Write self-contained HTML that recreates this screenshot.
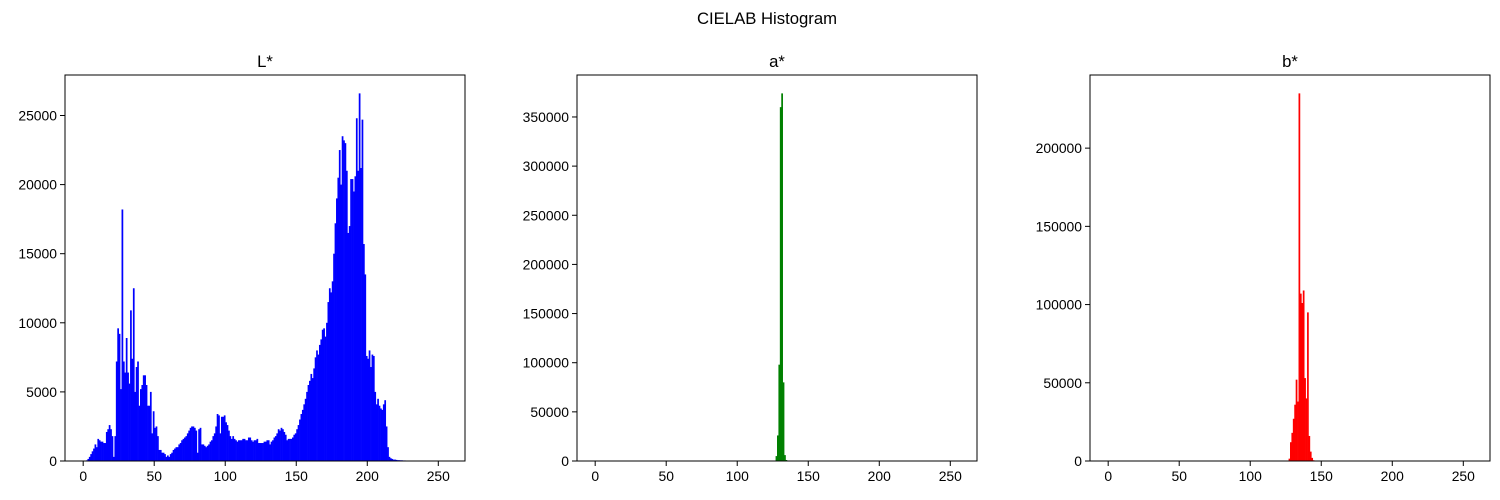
<!DOCTYPE html>
<html><head><meta charset="utf-8"><style>
body{margin:0;background:#fff;}
svg text{font-family:"Liberation Sans","DejaVu Sans",sans-serif;fill:#000;}
</style></head><body>
<svg id="fig" width="1500" height="495" xmlns="http://www.w3.org/2000/svg">
<text x="767" y="24" text-anchor="middle" font-size="16.7">CIELAB Histogram</text>
</svg>
<script>
const lValues=[0,0,50,150,300,500,700,900,1200,1000,1600,1500,1400,1400,1300,1300,2100,2300,2600,2300,1800,300,1800,7200,9600,9200,5200,18200,7200,6400,8900,6400,5600,10900,7400,12500,5000,6800,7200,4000,5200,5500,6200,6200,5500,4000,4000,5000,2000,3600,2400,2500,1800,800,800,600,600,500,300,400,300,500,600,800,900,1000,1000,1200,1300,1500,1600,1700,1800,2000,2200,2400,2500,2500,2400,2200,600,2300,2400,1200,1200,1100,1000,1100,1200,1400,1500,1800,2000,2500,3400,3300,2000,3200,3200,3300,2800,2600,2200,1800,1600,1800,1600,1500,1400,1500,1500,1500,1600,1600,1500,1500,1700,1700,1500,1400,1500,1500,1600,1300,1300,1300,1300,1400,1400,1500,1500,1200,1400,1500,1700,1800,2000,2300,2200,2400,2300,2100,1900,1500,1600,1600,1600,1700,1900,2000,2300,2600,3000,3400,3700,4100,4500,5000,5500,5800,6300,6000,6700,7500,8000,7700,8400,8800,9500,9600,9000,10000,11500,12500,12200,13000,15000,17200,19000,20500,22500,20000,23500,23200,23000,21000,16500,17000,20400,20400,19500,20600,24800,21000,26600,21200,24700,15700,13500,7600,7400,8000,6800,7700,7600,5000,4100,4500,4000,3800,3700,4100,4400,2500,1000,300,200,150,100,100,80,60,60,50,50,40,40,30,30,20,20,0,0,0,0,0,0,0,0,0,0,0,0,0,0,0,0,0,0,0,0,0,0,0,0,0];
const aBins=[126,127,128,129,130,131,132,133,134];
const aValues=[500,5000,26000,98000,360000,374000,80000,6000,1000];
const bBins=[127,128,129,130,131,132,133,134,135,136,137,138,139,140,141,142,143,144];
const bValues=[1500,12000,18000,27000,36000,52000,38000,235000,107000,101000,109000,53000,40000,95000,16000,6000,2000,500];
const xTicks=[0,50,100,150,200,250];
const lTicks=[0,5000,10000,15000,20000,25000];
const aTicks=[0,50000,100000,150000,200000,250000,300000,350000];
const bTicks=[0,50000,100000,150000,200000];
const NS="http://www.w3.org/2000/svg";
const fig=document.getElementById('fig');
function mk(tag,attrs,parent){const e=document.createElementNS(NS,tag);for(const k in attrs)e.setAttribute(k,attrs[k]);parent.appendChild(e);return e;}
function panel(left,title,name,bins,vals,yt,color){
  const top=75,bottom=461,w=400,h=bottom-top;
  const g=mk('g',{},fig);
  
  
  const maxV=Math.max(...vals)*1.05;
  const xs=v=>left+(v+12.8)/281.6*w;
  const ys=v=>bottom-v/maxV*h;
  bins.forEach((b,i)=>{
    const v=vals[i]; if(v<=0)return;
    const r=mk('rect',{x:xs(b),y:ys(v),width:xs(b+1)-xs(b)+0.3,height:bottom-ys(v),fill:color},g);
    
    
  });
  const fr=mk('rect',{x:left,y:top,width:w,height:h,fill:'none',stroke:'#000','stroke-width':1},g);
  
  
  const t=mk('text',{x:left+w/2,y:top-8,'text-anchor':'middle','font-size':16.7},g);
  t.textContent=title;
  
  
  xTicks.forEach(v=>{
    const x=xs(v);
    mk('line',{x1:x,x2:x,y1:bottom,y2:bottom+5,stroke:'#000'},g);
    const tx=mk('text',{x:x,y:bottom+20,'text-anchor':'middle','font-size':13.9},g);
    tx.textContent=v;
    
    
  });
  yt.forEach(v=>{
    const y=ys(v);
    mk('line',{x1:left-5,x2:left,y1:y,y2:y,stroke:'#000'},g);
    const ty=mk('text',{x:left-8,y:y+5,'text-anchor':'end','font-size':13.9},g);
    ty.textContent=v;
    
    
  });
}
const lBins=lValues.map((v,i)=>i);
panel(65,'L*','l-star',lBins,lValues,lTicks,'#0000ff');
panel(577,'a*','a-star',aBins,aValues,aTicks,'#008000');
panel(1090,'b*','b-star',bBins,bValues,bTicks,'#ff0000');
</script>
</body></html>
